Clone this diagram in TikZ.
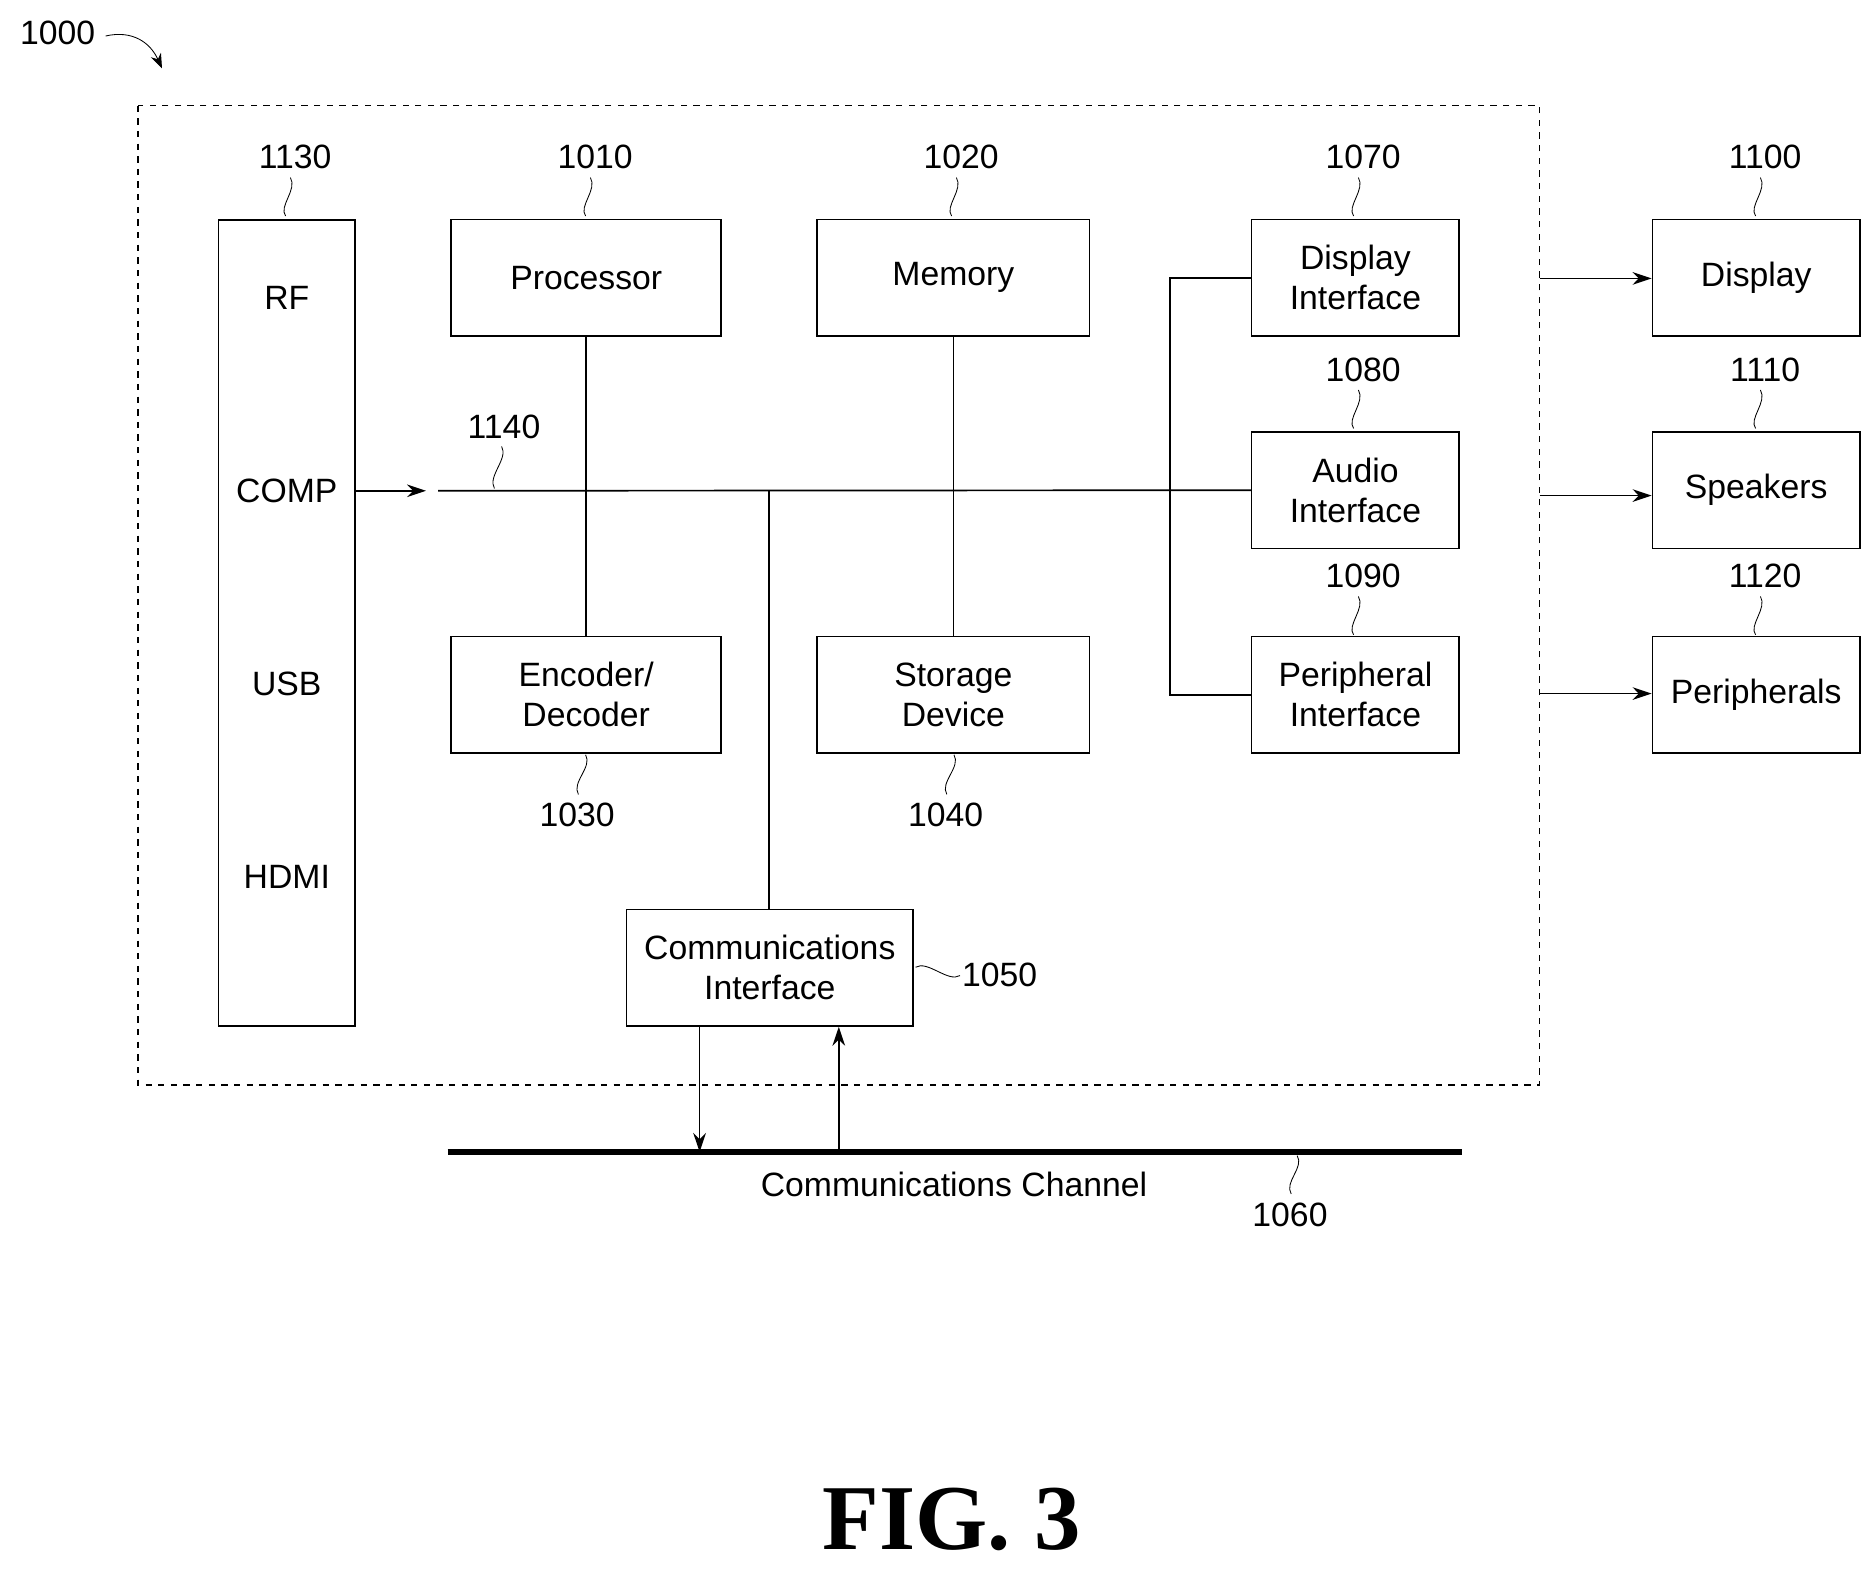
\documentclass[tikz,border=0pt]{standalone}
\usepackage{fontspec}
\setmainfont{Liberation Sans}
\newfontfamily\figfont{Liberation Serif}
\usetikzlibrary{arrows.meta}
\tikzset{
  box/.style={draw, thick, minimum height=1.94cm, align=center, inner sep=0pt},
  ref/.style={inner sep=1pt},
  arr/.style={-{Stealth[length=9pt,width=6pt]}, thick},
  lead/.style={thin}
}
\newcommand\tw{\fontsize{16}{19}\selectfont}
\begin{document}
\begin{tikzpicture}[x=0.02cm,y=-0.02cm,font=\tw]
  \useasboundingbox (0,0) rectangle (1560,1307);
  % outer dashed device boundary
  \draw[dashed, thick] (115,88) rectangle (1283,904);

  % input column
  \node[box, minimum width=2.28cm, minimum height=13.44cm] (rf) at (239,519) {};
  \node (lrf) at (239,248) {RF};
  \node (lcomp) at (239,409) {COMP};
  \node (lusb) at (239,570) {USB};
  \node (lhdmi) at (239,731) {HDMI};

  % internal blocks
  \node[box, minimum width=4.5cm] (proc) at (488.5,231.5) {Processor};
  \node[box, minimum width=4.54cm] (mem) at (794.5,231.5) {Memory};
  \node[box, minimum width=4.5cm] (codec) at (488.5,579) {Encoder/\\Decoder};
  \node[box, minimum width=4.54cm] (store) at (794.5,579) {Storage\\Device};
  \node[box, minimum width=3.46cm] (dispif) at (1129.5,231.5) {Display\\Interface};
  \node[box, minimum width=3.46cm] (audif) at (1129.5,408.5) {Audio\\Interface};
  \node[box, minimum width=3.46cm] (perif) at (1129.5,579) {Peripheral\\Interface};
  \node[box, minimum width=4.78cm] (comm) at (641.5,806.5) {Communications\\Interface};

  % external devices
  \node[box, minimum width=3.46cm] (disp) at (1463.5,231.5) {Display};
  \node[box, minimum width=3.46cm] (spk) at (1463.5,408.5) {Speakers};
  \node[box, minimum width=3.46cm] (per) at (1463.5,579) {Peripherals};

  % bus
  \coordinate (bs) at (365,409);
  \coordinate (bp) at (488,409);
  \coordinate (bm) at (794,409);
  \coordinate (bc) at (641,409);
  \coordinate (bv) at (975,409);
  \draw[arr] (rf.east |- bs) -- (355,409);
  \draw[thick] (bs) -- (audif.west);
  \draw[thick] (proc.south) -- (codec.north);
  \draw[thick] (mem.south) -- (store.north);
  \draw[thick] (bc) -- (comm.north -| bc);
  \draw[thick] (dispif.west) -| (bv) |- (perif.west);

  % outputs
  \foreach \a/\b/\y in {dispif/disp/232, audif/spk/413, perif/per/578}
    \draw[arr] (1283,\y) -- (\b.west |- 0,\y);

  % channel
  \coordinate (ch1) at (373,960);
  \coordinate (ch2) at (1218,960);
  \draw[line width=3pt] (ch1) -- (ch2);
  \draw[arr] (comm.south -| 583,0) -- (583,960);
  \draw[arr] (699,960) -- (comm.south -| 699,0);
  \node (chlbl) at (795,987) {Communications Channel};

  % reference numerals
  \foreach \n/\x/\y/\t in {n1130/246/131/1130, n1010/496/131/1010, n1020/801/131/1020,
      n1070/1136/131/1070, n1100/1471/131/1100, n1080/1136/308/1080, n1110/1471/308/1110,
      n1090/1136/480/1090, n1120/1471/480/1120}{
    \node[ref] (\n) at (\x,\y) {\t};
    \draw[lead] (\x-4,148) ++(0,\y-131) .. controls +(6,10) and +(-6,-8) .. ++(-4,32);
  }
  \node[ref] (n1140) at (420,356) {1140};
  \draw[lead] (418,372) .. controls +(6,10) and +(-6,-10) .. (412,407);
  \node[ref] (n1030) at (481,679) {1030};
  \draw[lead] (488,629) .. controls +(6,10) and +(-6,-10) .. (482,662);
  \node[ref] (n1040) at (788,679) {1040};
  \draw[lead] (795,629) .. controls +(6,10) and +(-6,-10) .. (789,662);
  \node[ref] (n1050) at (833,812) {1050};
  \draw[lead] (763,806) .. controls +(10,-6) and +(-10,6) .. (800,813);
  \node[ref] (n1060) at (1075,1012) {1060};
  \draw[lead] (1081,963) .. controls +(6,10) and +(-6,-10) .. (1076,995);
  \node[ref] (n1000) at (48,27) {1000};
  \draw[arr, thin, -{Stealth[length=7pt]}] (88,30) .. controls (110,25) and (125,35) .. (135,57);

  % figure title
  \node (fig) at (793,1266) {\figfont\bfseries\fontsize{44}{50}\selectfont FIG. 3};
\end{tikzpicture}
\end{document}
